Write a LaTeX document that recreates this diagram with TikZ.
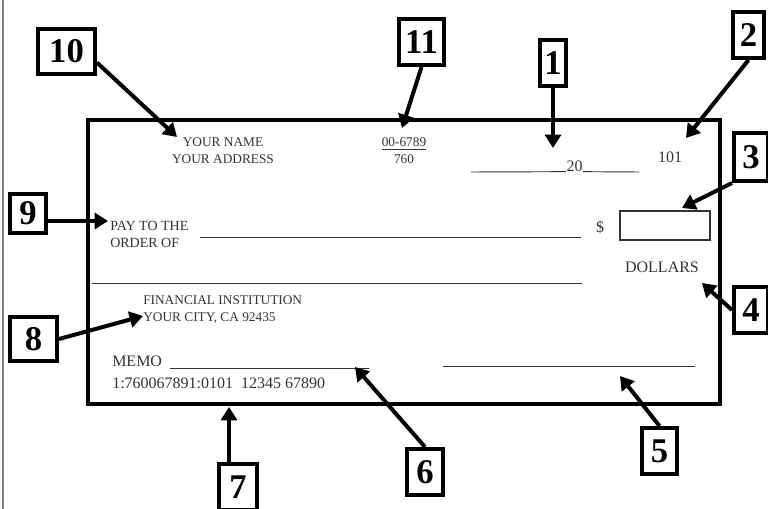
\documentclass[tikz,border=0pt]{standalone}
\usepackage{fontspec}
\setmainfont{Liberation Serif}
\usetikzlibrary{arrows.meta}

\definecolor{ink}{HTML}{333333}

\tikzset{
    numbox/.style={draw, line width=3pt, fill=white, inner sep=0pt,
        minimum height=34.5pt, font=\fontsize{26}{26}\selectfont\bfseries},
    pointer/.style={line width=3pt, -{Triangle[length=10pt, width=12pt]}},
    checktext/.style={text=ink, inner sep=0pt, font=\fontsize{10}{12.75}\selectfont},
    bigtext/.style={checktext, font=\fontsize{12}{14}\selectfont},
    blank/.style={ink, line width=0.7pt}
}

\begin{document}
\begin{tikzpicture}[x=0.75pt, y=-0.75pt]

    % --- Page ---
    \useasboundingbox (0,0) rectangle (768,509);
    \draw[gray, line width=1pt] (3,0) -- (3,509);

    % --- Check body ---
    \coordinate (topleft) at (88,120);
    \coordinate (bottomright) at (720,404);
    \draw[line width=3pt] (topleft) rectangle (bottomright);

    % --- Printed fields ---
    \node[checktext, align=center] (owner) at (223,151) {YOUR NAME\\YOUR ADDRESS};
    \node[checktext, align=center] (routing) at (404,151) {\underline{00-6789}\\760};
    \node[bigtext] (year) at (574.5,166) {20};
    \draw[blank] (471,172) -- (year.south west);
    \draw[blank] (year.south east) -- (639,172);
    \node[bigtext] (number) at (670,157) {101};

    \node[checktext, font=\fontsize{10.5}{12.75}\selectfont, align=left, anchor=west] (payto) at (110,234) {PAY TO THE\\ORDER OF};
    \draw[blank] (200,237) -- (581,237);
    \node[bigtext] (dollar) at (600,227) {\$};
    \draw[ink, line width=1.2pt] (620,211) rectangle (710,240);

    \draw[blank] (92,283) -- (582,283);
    \node[bigtext] (dollars) at (662,267) {DOLLARS};

    \node[checktext, align=left, anchor=west] (bank) at (143,310) {FINANCIAL INSTITUTION\\YOUR CITY, CA 92435};

    \node[bigtext, anchor=west] (memo) at (112,361) {MEMO};
    \draw[blank] (170,368) -- (369,368);
    \node[bigtext, anchor=west] (micr) at (112,383) {1:760067891:0101\ \ 12345 67890};

    \draw[blank] (443,366) -- (695,366);

    % --- Numbered callouts ---
    \node[numbox, minimum width=19.5pt] (n1) at (553,63.5) {1};
    \node[numbox, minimum width=23.25pt] (n2) at (748.5,35) {2};
    \node[numbox, minimum width=25.5pt, minimum height=36pt] (n3) at (751,157) {3};
    \node[numbox, minimum width=25.5pt] (n4) at (751,310) {4};
    \node[numbox, minimum width=26.25pt] (n5) at (659.5,451) {5};
    \node[numbox, minimum width=27pt] (n6) at (425,472) {6};
    \node[numbox, minimum width=28.5pt] (n7) at (238,487) {7};
    \node[numbox, minimum width=35.25pt, minimum height=33pt] (n8) at (33.5,339) {8};
    \node[numbox, minimum width=27pt, minimum height=29.25pt] (n9) at (28,213.5) {9};
    \node[numbox, minimum width=42.75pt, minimum height=33.75pt] (n10) at (66.5,51.5) {10};
    \node[numbox, minimum width=33.75pt] (n11) at (421.5,42) {11};

    % --- Arrow tips ---
    \coordinate (tip1) at (553,148);
    \coordinate (tip2) at (686,138);
    \coordinate (tip3) at (682,208);
    \coordinate (tip4) at (702,283);
    \coordinate (tip5) at (620,376);
    \coordinate (tip6) at (355,367);
    \coordinate (tip7) at (229,407);
    \coordinate (tip8) at (143,316);
    \coordinate (tip9) at (108,221);
    \coordinate (tip10) at (177,137);
    \coordinate (tip11) at (402,128);

    % --- Pointers ---
    \draw[pointer] (n1.south) -- (tip1);
    \draw[pointer] (n2.south) -- (tip2);
    \draw[pointer] (n3.south west) -- (tip3);
    \draw[pointer] (n4.west) -- (tip4);
    \draw[pointer] (n5.north) -- (tip5);
    \draw[pointer] (n6.north) -- (tip6);
    \draw[pointer] (tip7 |- n7.north) -- (tip7);
    \draw[pointer] (n8.east) -- (tip8);
    \draw[pointer] (n9.east |- tip9) -- (tip9);
    \draw[pointer] (n10.-20) -- (tip10);
    \draw[pointer] (n11.south) -- (tip11);

\end{tikzpicture}
\end{document}
